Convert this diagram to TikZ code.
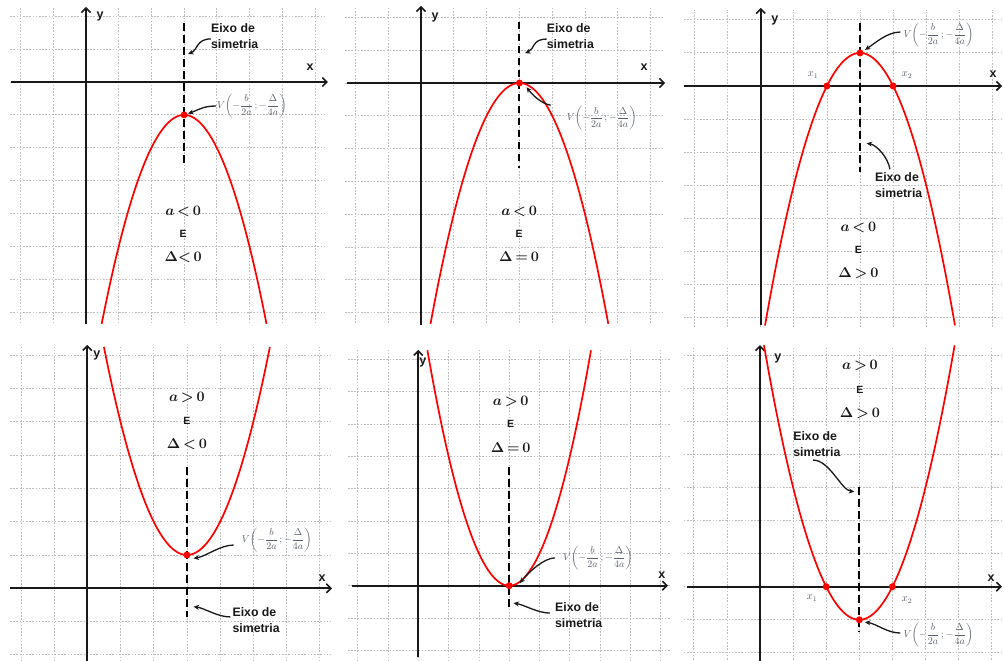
\documentclass[tikz,border=0pt]{standalone}
\usepackage{amsmath}
\usepackage{fontspec}
\setsansfont{Liberation Sans}
\usetikzlibrary{arrows.meta}
\definecolor{vgray}{RGB}{88,96,108}
\definecolor{gridc}{RGB}{190,190,190}
\definecolor{ink}{RGB}{25,25,25}
\tikzset{
  gridln/.style={gridc, line width=0.8pt, dash pattern=on 1.6pt off 1.6pt},
  axis/.style={ink, line width=2pt, -{Straight Barb[length=4.5pt,width=9pt,line width=1.6pt]}},
  symaxis/.style={black, line width=2pt, dash pattern=on 7.5pt off 4.5pt},
  parab/.style={red, line width=1.7pt, smooth, samples=80},
  vdot/.style={circle, fill=red, inner sep=0pt, minimum size=7pt},
  eixo/.style={font=\fontsize{12.3}{16}\selectfont\sffamily\bfseries, align=left, anchor=west, inner sep=0pt, text=ink},
  axlbl/.style={font=\fontsize{12.5}{14}\selectfont\sffamily\bfseries, inner sep=0pt, text=ink},
  vlbl/.style={text=vgray, anchor=west, inner sep=0pt, font=\fontsize{10.3}{12}\selectfont},
  cond/.style={font=\fontsize{13.5}{15}\selectfont\boldmath, inner sep=0pt, text=ink},
  econd/.style={font=\fontsize{10.5}{11}\selectfont\sffamily\bfseries, inner sep=0pt, text=ink},
  rlbl/.style={text=vgray, inner sep=0pt, font=\fontsize{10.5}{12}\selectfont},
  curly/.style={ink, line width=1.3pt, -{Stealth[length=5.5pt,width=5pt]}},
}
\newcommand\Vlab{$V\!\left(-\dfrac{b}{2a}\,;-\dfrac{\Delta}{4a}\right)$}
\newcommand\rel[1]{\mskip3mu{#1}\mskip3mu}
\begin{document}
\begin{tikzpicture}
\useasboundingbox (0,0) rectangle (1004pt,661pt);
\fill[white] (0,0) rectangle (1004pt,661pt);

% ---------- Panel 1 ----------
\begin{scope}[shift={(86pt,579pt)}, x=32.7pt, y=32.9pt]
 \foreach \u in {-2,...,7} \draw[gridln] (\u,-7.33) -- (\u,2.25);
 \foreach \v in {-7,...,2} \draw[gridln] (-2.32,\v) -- (7.31,\v);
 \draw[axis] (-2.29,0) -- (7.4,0);
 \draw[axis] (0,-7.36) -- (0,2.28);
 \draw[parab, domain=0.48:5.52] plot (\x, {-((\x-3)*(\x-3))-1});
 \draw[symaxis] (3,1.79) -- (3,-2.58);
 \node[vdot] (v1) at (3,-1) {};
 \node[axlbl] (y1) at (0.43,1.98) {y};
 \node[axlbl] (x1) at (6.85,0.46) {x};
 \node[eixo] (e1) at (3.82,1.40) {Eixo de\\simetria};
 \coordinate (e1t) at (3.12,0.85);
 \draw[curly] ([yshift=-3pt]e1.west) .. controls +(-0.45,0) and +(0.3,0.12) .. (e1t);
 \node[vlbl] (v1l) at (4.0,-0.73) {\Vlab};
 \coordinate (v1t) at (3.12,-0.96);
 \draw[curly] ([xshift=-1pt]v1l.west) .. controls +(-0.4,0) and +(0.3,0.1) .. (v1t);
 \node[cond] (c1a) at (2.97,-3.95) {$a\rel{<}0$};
 \node[econd] (c1b) at (2.97,-4.62) {E};
 \node[cond] (c1c) at (2.97,-5.32) {$\Delta{<}\mskip3mu0$};
\end{scope}

% ---------- Panel 2 ----------
\begin{scope}[shift={(421pt,578pt)}, x=32.8pt, y=32.8pt]
 \foreach \u in {-2,...,7} \draw[gridln] (\u,-7.32) -- (\u,2.29);
 \foreach \v in {-7,...,2} \draw[gridln] (-2.32,\v) -- (7.35,\v);
 \draw[axis] (-2.26,0) -- (7.44,0);
 \draw[axis] (0,-7.38) -- (0,2.35);
 \draw[parab, domain=0.29:5.71] plot (\x, {-((\x-3)*(\x-3))});
 \draw[symaxis] (3,1.86) -- (3,-2.59);
 \node[vdot] (v2) at (3,0) {};
 \node[axlbl] (y2) at (0.43,2.01) {y};
 \node[axlbl] (x2) at (6.8,0.49) {x};
 \node[eixo] (e2) at (3.83,1.43) {Eixo de\\simetria};
 \coordinate (e2t) at (3.17,0.91);
 \draw[curly] ([yshift=-3pt]e2.west) .. controls +(-0.45,0) and +(0.3,0.12) .. (e2t);
 \node[vlbl] (v2l) at (4.44,-1.08) {\Vlab};
 \coordinate (v2t) at (3.22,-0.13);
 \draw[curly] ([xshift=-16pt,yshift=1pt]v2l.north west) .. controls +(-0.3,0.05) and +(0.15,-0.2) .. (v2t);
 \node[cond] (c2a) at (2.99,-3.93) {$a\rel{<}0$};
 \node[econd] (c2b) at (2.99,-4.6) {E};
 \node[cond] (c2c) at (2.99,-5.3) {$\Delta\rel{=}0$};
\end{scope}

% ---------- Panel 3 ----------
\begin{scope}[shift={(760.7pt,575pt)}, x=33.1pt, y=33.1pt]
 \foreach \u in {-2,...,7} \draw[gridln] (\u,-7.28) -- (\u,2.3);
 \foreach \v in {-7,...,2} \draw[gridln] (-2.32,\v) -- (7.35,\v);
 \draw[axis] (-2.32,0) -- (7.29,0);
 \draw[axis] (0,-7.22) -- (0,2.36);
 \draw[parab, domain=0.13:5.87] plot (\x, {1-((\x-3)*(\x-3))});
 \draw[symaxis] (3,1.9) -- (3,-2.6);
 \node[vdot] (v3) at (3,1) {};
 \node[vdot] (r31) at (2,0) {};
 \node[vdot] (r32) at (4,0) {};
 \node[axlbl] (y3) at (0.43,1.99) {y};
 \node[axlbl] (x3) at (7.02,0.36) {x};
 \node[rlbl] (x31) at (1.58,0.33) {$x_1$};
 \node[rlbl] (x32) at (4.42,0.33) {$x_2$};
 \node[vlbl] (v3l) at (4.31,1.54) {\Vlab};
 \coordinate (v3t) at (3.15,1.09);
 \draw[curly] ([xshift=-3pt,yshift=3pt]v3l.west) .. controls +(-0.4,0) and +(0.3,0.2) .. (v3t);
 \node[eixo] (e3) at (3.45,-2.99) {Eixo de\\simetria};
 \coordinate (e3t) at (3.2,-1.73);
 \draw[curly] ([xshift=15pt,yshift=3pt]e3.north west) .. controls +(-0.05,0.35) and +(0.3,-0.05) .. (e3t);
 \node[cond] (c3a) at (2.95,-4.26) {$a\rel{<}0$};
 \node[econd] (c3b) at (2.95,-4.95) {E};
 \node[cond] (c3c) at (2.95,-5.65) {$\Delta\rel{>}0$};
\end{scope}

% ---------- Panel 4 ----------
\begin{scope}[shift={(87.3pt,72.7pt)}, x=33.2pt, y=33.3pt]
 \foreach \u in {-2,...,7} \draw[gridln] (\u,-2.3) -- (\u,7.25);
 \foreach \v in {-2,...,7} \draw[gridln] (-2.33,\v) -- (7.31,\v);
 \draw[axis] (-2.33,0) -- (7.37,0);
 \draw[axis] (0,-2.2) -- (0,7.31);
 \draw[parab, domain=0.5:5.5] plot (\x, {((\x-3)*(\x-3))+1});
 \draw[symaxis] (3,3.64) -- (3,-0.86);
 \node[vdot] (v4) at (3,1) {};
 \node[axlbl] (y4) at (0.29,7.0) {y};
 \node[axlbl] (x4) at (7.07,0.31) {x};
 \node[vlbl] (v4l) at (4.65,1.45) {\Vlab};
 \coordinate (v4t) at (3.2,0.9);
 \draw[curly] ([xshift=-8pt,yshift=-5pt]v4l.west) .. controls +(-0.4,0) and +(0.35,0.05) .. (v4t);
 \node[eixo] (e4) at (4.37,-0.95) {Eixo de\\simetria};
 \coordinate (e4t) at (3.2,-0.55);
 \draw[curly] ([xshift=-2pt,yshift=3pt]e4.west) .. controls +(-0.4,0) and +(0.35,-0.05) .. (e4t);
 \node[cond] (c4a) at (3.0,5.72) {$a\rel{>}0$};
 \node[econd] (c4b) at (3.0,5.03) {E};
 \node[cond] (c4c) at (3.0,4.34) {$\Delta\rel{<}0$};
\end{scope}

% ---------- Panel 5 ----------
\begin{scope}[shift={(418.3pt,75.3pt)}, x=30.3pt, y=32.3pt]
 \foreach \u in {-2,...,8} \draw[gridln] (\u,-2.35) -- (\u,7.3);
 \foreach \v in {-2,...,7} \draw[gridln] (-2.32,\v) -- (8.3,\v);
 \draw[axis] (-2.19,0) -- (8.24,0);
 \draw[axis] (0,-2.21) -- (0,7.3);
 \draw[parab, domain=0.3:5.7] plot (\x, {((\x-3)*(\x-3))});
 \draw[symaxis] (3,3.67) -- (3,-0.75);
 \node[vdot] (v5) at (3,0) {};
 \node[axlbl] (y5) at (0.15,6.9) {y};
 \node[axlbl] (x5) at (8.04,0.33) {x};
 \node[vlbl] (v5l) at (4.77,0.86) {\Vlab};
 \coordinate (v5t) at (3.35,0.08);
 \draw[curly] ([xshift=-8pt]v5l.west) .. controls +(-0.35,0) and +(0.3,0.35) .. (v5t);
 \node[eixo] (e5) at (4.51,-0.91) {Eixo de\\simetria};
 \coordinate (e5t) at (3.14,-0.54);
 \draw[curly] ([xshift=-5pt,yshift=2pt]e5.west) .. controls +(-0.4,0) and +(0.35,-0.05) .. (e5t);
 \node[cond] (c5a) at (3.05,5.71) {$a\rel{>}0$};
 \node[econd] (c5b) at (3.05,5.0) {E};
 \node[cond] (c5c) at (3.05,4.29) {$\Delta\rel{=}0$};
\end{scope}

% ---------- Panel 6 ----------
\begin{scope}[shift={(760pt,74.3pt)}, x=33.1pt, y=33.1pt]
 \foreach \u in {-2,...,7} \draw[gridln] (\u,-2.3) -- (\u,7.24);
 \foreach \v in {-2,...,7} \draw[gridln] (-2.3,\v) -- (7.37,\v);
 \draw[axis] (-2.2,0) -- (7.31,0);
 \draw[axis] (0,-2.24) -- (0,7.3);
 \draw[parab, domain=0.12:5.88] plot (\x, {((\x-3)*(\x-3))-1});
 \draw[symaxis] (3,3.01) -- (3,-1.37);
 \node[vdot] (v6) at (3,-1) {};
 \node[vdot] (r61) at (2,0) {};
 \node[vdot] (r62) at (4,0) {};
 \node[axlbl] (y6) at (0.54,6.88) {y};
 \node[axlbl] (x6) at (6.98,0.26) {x};
 \node[rlbl] (x61) at (1.57,-0.34) {$x_1$};
 \node[rlbl] (x62) at (4.44,-0.4) {$x_2$};
 \node[vlbl] (v6l) at (4.33,-1.46) {\Vlab};
 \coordinate (v6t) at (3.17,-1.07);
 \draw[curly] ([xshift=-3pt,yshift=2pt]v6l.west) .. controls +(-0.4,0) and +(0.35,-0.05) .. (v6t);
 \node[eixo] (e6) at (1.0,4.3) {Eixo de\\simetria};
 \coordinate (e6t) at (2.85,2.87);
 \draw[curly] ([xshift=20pt,yshift=-3pt]e6.south west) .. controls +(0.5,0) and +(-0.4,0.05) .. (e6t);
 \node[cond] (c6a) at (3.02,6.67) {$a\rel{>}0$};
 \node[econd] (c6b) at (3.02,5.94) {E};
 \node[cond] (c6c) at (3.02,5.25) {$\Delta\rel{>}0$};
\end{scope}
\end{tikzpicture}
\end{document}
